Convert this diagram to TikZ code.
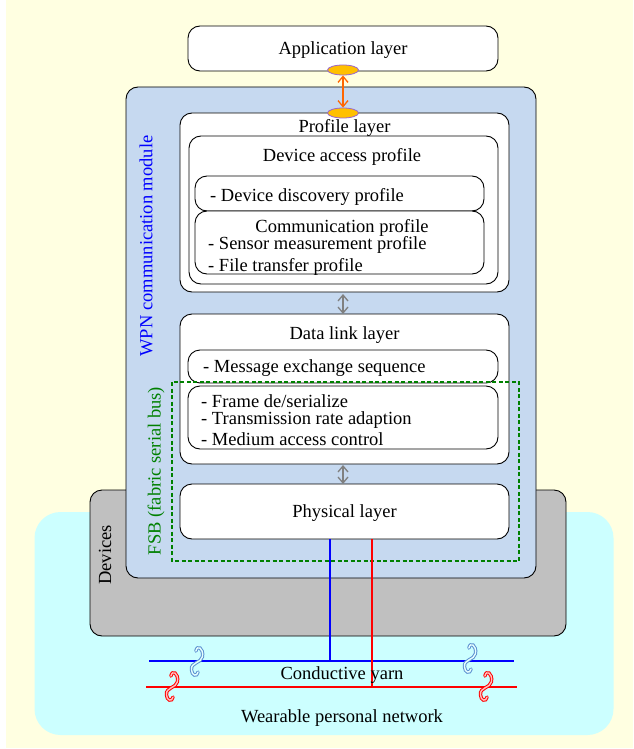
\documentclass[tikz,border=0pt]{standalone}
\usepackage{fontspec}
\setmainfont{Liberation Serif}
\usetikzlibrary{arrows.meta,shapes.geometric}
\definecolor{cream}{HTML}{FFFFE1}
\definecolor{wpnblue}{HTML}{C6D9F0}
\definecolor{devgray}{HTML}{C0C0C0}
\definecolor{netcyan}{HTML}{CCFFFF}
\definecolor{fsbgreen}{HTML}{008000}
\definecolor{lbl}{HTML}{0000FF}
\definecolor{ovalfill}{HTML}{FFC000}
\definecolor{ovaldraw}{HTML}{9966CC}
\definecolor{arrorange}{HTML}{FF6600}
\definecolor{sqblue}{HTML}{5B8FD0}
\tikzset{
  layerbox/.style={draw=black, line width=0.9pt, fill=white, rounded corners=12pt, inner sep=0pt},
  area/.style={rounded corners=12pt, inner sep=0pt},
  vtxt/.style={font=\fontsize{18.5}{21}\selectfont, inner sep=0pt},
  txt/.style={vtxt, yshift=-1.5pt},
  ltxt/.style={txt, anchor=west},
  oval/.style={ellipse, draw=ovaldraw, fill=ovalfill, line width=0.8pt, minimum width=31pt, minimum height=10pt, inner sep=0pt},
  dblarrow/.style={{Straight Barb[length=6pt,width=10pt]}-{Straight Barb[length=6pt,width=10pt]}, line width=1.3pt},
}
% twisted-yarn symbol: an S-shaped stroke drawn as an outline
\newcommand{\yarnsquig}[4]{% x, y, outline colour, inner colour
  \begin{scope}[shift={(#1,#2)}, scale=1.1]
  \draw[line width=3.4pt, #3, line cap=round]
    (-1,-9) .. controls (0,-15) and (6,-12) .. (5,-4) .. controls (4,2) and (-6,1) .. (-5,8) .. controls (-5,13) and (0,15) .. (1,10);
  \draw[line width=1.4pt, #4, line cap=round]
    (-1,-9) .. controls (0,-15) and (6,-12) .. (5,-4) .. controls (4,2) and (-6,1) .. (-5,8) .. controls (-5,13) and (0,15) .. (1,10);
  \end{scope}
}
\begin{document}
\begin{tikzpicture}[x=1pt,y=-1pt]
\useasboundingbox (0,0) rectangle (633,749);
\fill[white] (0,0) rectangle (633,749);
\fill[cream] (6,0) rectangle (633,748);

% wearable network area
\node[area, fill=netcyan, rounded corners=26pt, minimum width=579pt, minimum height=223pt] (wpn-net) at (324,623.5) {};
\node[txt, anchor=center] (wpnlabel) at (342,717) {Wearable personal network};

% devices
\node[layerbox, fill=devgray, minimum width=476pt, minimum height=146pt] (devices) at (328,563) {};
\node[vtxt, rotate=90] (devlabel) at (105,555) {Devices};

% communication module
\node[layerbox, fill=wpnblue, minimum width=410pt, minimum height=491pt] (module) at (331,332.5) {};
\node[vtxt, rotate=90, text=lbl] (modlabel) at (146,246) {WPN communication module};

% application layer
\node[layerbox, minimum width=310pt, minimum height=45pt] (app) at (343,48.5) {};
\node[txt] at (app.center) {Application layer};

% profile layer
\node[layerbox, minimum width=329pt, minimum height=179pt] (profile) at (344.5,202.5) {};
\node[txt] (proftitle) at (344.5,126) {Profile layer};
\node[layerbox, minimum width=309pt, minimum height=148pt] (access) at (343.5,210) {};
\node[txt] (accesstitle) at (342,155) {Device access profile};
\node[layerbox, minimum width=289pt, minimum height=35pt] (discovery) at (339.5,193.5) {};
\node[ltxt] at (210,195) {- Device discovery profile};
\node[layerbox, minimum width=289pt, minimum height=63pt] (comm) at (339.5,242.5) {};
\node[txt] (commtitle) at (342,226) {Communication profile};
\node[ltxt] at (208,243) {- Sensor measurement profile};
\node[ltxt] at (208,265) {- File transfer profile};

% data link layer
\node[layerbox, minimum width=329pt, minimum height=150pt] (datalink) at (344.5,389) {};
\node[txt] (dltitle) at (344.5,334) {Data link layer};
\node[layerbox, minimum width=310pt, minimum height=33pt] (msg) at (343,366.5) {};
\node[ltxt] at (203,367) {- Message exchange sequence};
\node[layerbox, minimum width=310pt, minimum height=63pt] (frame) at (343,417.5) {};
\node[ltxt] at (201,400) {- Frame de/serialize};
\node[ltxt] at (201,419) {- Transmission rate adaption};
\node[ltxt] at (201,438) {- Medium access control};

% physical layer
\node[layerbox, minimum width=329pt, minimum height=55pt] (phys) at (344.5,511.5) {};
\node[txt] at (phys.center) {Physical layer};

% fabric serial bus
\draw[fsbgreen, line width=2pt, dash pattern=on 4pt off 2.5pt] (172,382) rectangle (519,561);
\node[vtxt, rotate=90, text=fsbgreen] (fsblabel) at (156,471) {FSB (fabric serial bus)};

% interfaces between layers
\node[oval] (ovtop) at (343,70) {};
\node[oval] (ovbot) at (343,113) {};
\draw[dblarrow, arrorange] (ovtop.south) -- (ovbot.north);
\coordinate (pa) at (343,294);
\coordinate (pb) at (343,314);
\draw[dblarrow, gray] (pa) -- (pb);
\coordinate (da) at (343,465);
\coordinate (db) at (343,484);
\draw[dblarrow, gray] (da) -- (db);

% conductive yarn
\coordinate (bl) at (149,661);
\coordinate (br) at (514,661);
\coordinate (rl) at (146,687);
\coordinate (rr) at (517,687);
\coordinate (bt) at (330,539);
\coordinate (bb) at (330,661);
\coordinate (rt) at (372,539);
\coordinate (rb) at (372,687);
\draw[blue, line width=2pt] (bl) -- (br);
\draw[red, line width=2pt] (rl) -- (rr);
\draw[blue, line width=2pt] (bt) -- (bb);
\draw[red, line width=2pt] (rt) -- (rb);
\yarnsquig{197}{661}{sqblue}{netcyan!50!white}
\yarnsquig{470}{658}{sqblue}{netcyan!50!white}
\yarnsquig{172}{686}{red}{pink}
\yarnsquig{486}{686}{red}{pink}
\node[txt] (yarn) at (342,674) {Conductive yarn};
\end{tikzpicture}
\end{document}
